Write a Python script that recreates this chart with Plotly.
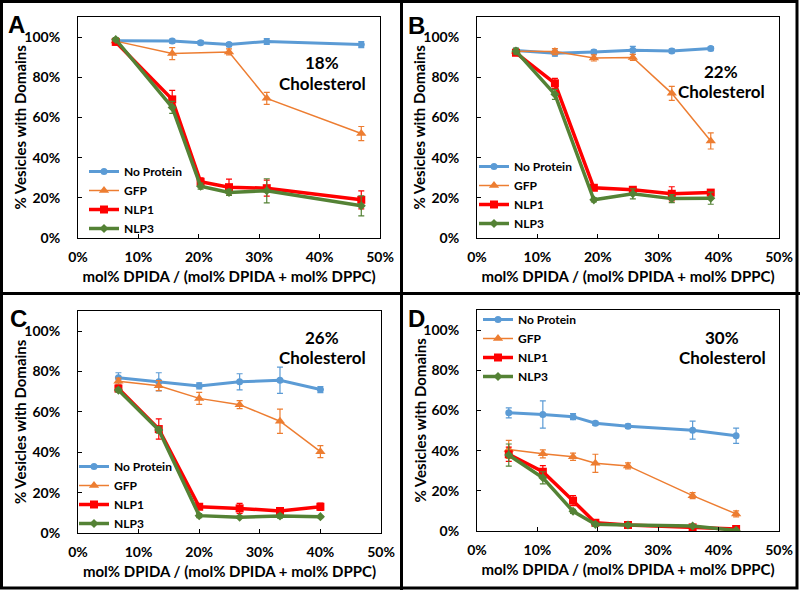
import plotly.graph_objects as go

W, H = 800, 590

# ---------------- data ----------------
series_names = ["No Protein", "GFP", "NLP1", "NLP3"]

x_A = [6.25, 15.6, 20.3, 25.0, 31.25, 46.9]
x_A_gfp = [6.25, 15.6, 25.0, 31.25, 46.9]
noprot_A = [98.2, 98.0, 97.2, 96.3, 97.8, 96.3]
noprot_A_err = [0.8, 1.0, 1.0, 1.0, 1.5, 1.5]
gfp_A = [98.0, 91.8, 92.6, 69.5, 52.0]
gfp_A_err = [1.0, 3.0, 1.5, 3.0, 3.5]
nlp1_A = [97.6, 69.0, 28.0, 25.3, 24.8, 19.0]
nlp1_A_err = [1.5, 4.5, 2.0, 4.0, 4.0, 4.5]
nlp3_A = [98.8, 65.0, 25.8, 22.7, 23.5, 16.0]
nlp3_A_err = [1.0, 3.0, 1.5, 1.5, 6.0, 5.0]

x_B = [6.45, 12.9, 19.35, 25.8, 32.25, 38.7]
noprot_B = [93.3, 92.0, 92.6, 93.4, 93.1, 94.3]
noprot_B_err = [1.0, 1.5, 1.0, 2.0, 1.0, 1.0]
gfp_B = [93.0, 92.8, 89.6, 89.9, 72.0, 48.3]
gfp_B_err = [1.0, 1.5, 1.5, 1.5, 3.5, 4.0]
nlp1_B = [92.2, 77.0, 25.0, 24.0, 22.0, 22.6]
nlp1_B_err = [1.0, 2.5, 1.0, 1.0, 3.5, 1.5]
nlp3_B = [93.0, 71.5, 19.0, 22.0, 19.6, 19.8]
nlp3_B_err = [1.5, 2.5, 1.0, 2.5, 2.0, 3.0]

x_C = [6.67, 13.33, 20.0, 26.67, 33.33, 40.0]
noprot_C = [76.9, 74.9, 72.9, 74.9, 75.7, 71.1]
noprot_C_err = [2.5, 4.5, 1.5, 4.0, 6.5, 1.5]
gfp_C = [75.2, 73.0, 66.7, 63.6, 55.4, 40.3]
gfp_C_err = [1.5, 2.5, 3.0, 2.0, 6.0, 3.0]
nlp1_C = [71.6, 51.5, 13.0, 12.2, 10.9, 13.0]
nlp1_C_err = [1.5, 5.0, 1.0, 2.5, 1.0, 1.8]
nlp3_C = [70.8, 51.0, 8.6, 7.8, 8.4, 8.1]
nlp3_C_err = [1.0, 1.5, 1.0, 0.5, 1.0, 0.5]

x_D = [5.26, 10.9, 15.9, 19.6, 25.0, 35.7, 42.9]
noprot_D = [58.8, 58.0, 56.9, 53.6, 52.2, 50.2, 47.4]
noprot_D_err = [2.5, 6.8, 1.5, 1.0, 1.0, 4.5, 3.8]
gfp_D = [40.6, 38.4, 37.0, 33.7, 32.4, 17.6, 8.5]
gfp_D_err = [4.5, 2.0, 1.8, 4.5, 1.5, 1.5, 1.5]
nlp1_D = [38.2, 29.5, 15.1, 4.1, 3.0, 1.8, 1.0]
nlp1_D_err = [3.5, 3.0, 2.5, 1.0, 1.0, 0.5, 0.5]
nlp3_D = [37.8, 26.5, 9.8, 3.3, 3.0, 2.5, 0.3]
nlp3_D_err = [5.5, 3.0, 1.0, 1.0, 0.5, 0.5, 0.5]

panel_letters = ["A", "B", "C", "D"]
chol_labels = ["18%", "22%", "26%", "30%"]
x_ticks = [0, 10, 20, 30, 40, 50]
x_tick_labels = ["0%", "10%", "20%", "30%", "40%", "50%"]
y_ticks = [0, 20, 40, 60, 80, 100]
y_tick_labels = ["0%", "20%", "40%", "60%", "80%", "100%"]
x_title = "mol% DPIDA / (mol% DPIDA + mol% DPPC)"
y_title = "% Vesicles with Domains"

panels = [
    [(x_A, noprot_A, noprot_A_err), (x_A_gfp, gfp_A, gfp_A_err), (x_A, nlp1_A, nlp1_A_err), (x_A, nlp3_A, nlp3_A_err)],
    [(x_B, noprot_B, noprot_B_err), (x_B, gfp_B, gfp_B_err), (x_B, nlp1_B, nlp1_B_err), (x_B, nlp3_B, nlp3_B_err)],
    [(x_C, noprot_C, noprot_C_err), (x_C, gfp_C, gfp_C_err), (x_C, nlp1_C, nlp1_C_err), (x_C, nlp3_C, nlp3_C_err)],
    [(x_D, noprot_D, noprot_D_err), (x_D, gfp_D, gfp_D_err), (x_D, nlp1_D, nlp1_D_err), (x_D, nlp3_D, nlp3_D_err)],
]

# ---------------- styles ----------------
colors = ["#5B9BD5", "#ED7D31", "#FF0000", "#548235"]
line_widths = [3, 1.5, 3.5, 3.5]
symbols = ["circle", "triangle-up", "square", "diamond"]
msizes = [7, 9, 8, 7]

FONT = "Lato"

# pixel domains (left, right, top, bottom)
doms = [(78, 380, 17, 238), (477, 779, 17, 238), (78, 381, 311, 533), (477, 779, 310, 531)]
legend_pos = [(84, 200), (474, 195), (74, 495), (478, 348)]  # (left x, middle y) px
letter_pos = [(16, 24), (416, 25), (18, 318), (416, 318)]
chol_pos = [(322, 63, 83), (721, 71, 91), (322, 337, 357), (722, 337, 357)]
ytitle_x = [20, 419, 20, 419]


def px(x):
    return x / W


def py(y):
    return 1 - y / H


fig = go.Figure()
layout = {}
annotations = []

for i, data in enumerate(panels):
    n = "" if i == 0 else str(i + 1)
    xa, ya = "x" + n, "y" + n
    leg = "legend" + n
    for j, (xs, ys, es) in enumerate(data):
        fig.add_trace(go.Scatter(
            x=xs, y=ys, name=series_names[j], mode="lines+markers",
            xaxis=xa, yaxis=ya, legend=leg,
            line=dict(color=colors[j], width=line_widths[j]),
            marker=dict(symbol=symbols[j], size=msizes[j], color=colors[j]),
            error_y=dict(type="data", array=es, visible=True, color=colors[j], thickness=1.2, width=3),
        ))
    l, r, t, b = doms[i]
    layout["xaxis" + n] = dict(
        domain=[px(l), px(r)], anchor=ya, range=[0, 50], tickmode="array",
        tickvals=x_ticks, ticktext=x_tick_labels, automargin=False,
        showline=True, mirror=True, linecolor="black", linewidth=1, ticks="inside", ticklen=4,
        tickcolor="black", showgrid=False, zeroline=False,
        tickfont=dict(family=FONT, size=14, color="black", weight="bold"),
        ticklabelstandoff=6,
        title=dict(text=x_title, font=dict(family=FONT, size=15, color="black", weight="bold"), standoff=7),
    )
    layout["yaxis" + n] = dict(
        domain=[py(b), py(t)], anchor=xa, range=[0, 110], tickmode="array",
        tickvals=y_ticks, ticktext=y_tick_labels, automargin=False,
        showline=True, mirror=True, linecolor="black", linewidth=1, ticks="inside", ticklen=4,
        tickcolor="black", showgrid=False, zeroline=False,
        tickfont=dict(family=FONT, size=14, color="black", weight="bold"),
        ticklabelstandoff=14,
    )
    annotations.append(dict(
        text=y_title, textangle=-90, x=px(ytitle_x[i]), y=py((t + b) / 2), xref="paper", yref="paper",
        showarrow=False, font=dict(family=FONT, size=15, color="black", weight="bold"),
        xanchor="center", yanchor="middle"))
    lx, ly = legend_pos[i]
    layout[leg] = dict(
        x=px(lx), y=py(ly), xanchor="left", yanchor="middle", bgcolor="rgba(0,0,0,0)",
        font=dict(family=FONT, size=12, color="black", weight="bold"), itemwidth=30,
        traceorder="normal",
    )
    annotations.append(dict(
        text=panel_letters[i], x=px(letter_pos[i][0]), y=py(letter_pos[i][1]), xref="paper", yref="paper",
        showarrow=False, font=dict(family="Liberation Sans", size=24, color="black", weight="bold"),
        xanchor="center", yanchor="middle"))
    cx, cy1, cy2 = chol_pos[i]
    annotations.append(dict(
        text=chol_labels[i], x=px(cx), y=py(cy1), xref="paper", yref="paper", showarrow=False,
        font=dict(family=FONT, size=17, color="black", weight="bold"), xanchor="center", yanchor="middle"))
    annotations.append(dict(
        text="Cholesterol", x=px(cx), y=py(cy2), xref="paper", yref="paper", showarrow=False,
        font=dict(family=FONT, size=17, color="black", weight="bold"), xanchor="center", yanchor="middle"))

shapes = [
    dict(type="rect", xref="paper", yref="paper", x0=px(1.5), x1=px(797), y0=py(588), y1=py(1.5),
         line=dict(color="black", width=3)),
    dict(type="line", xref="paper", yref="paper", x0=px(401.5), x1=px(401.5), y0=0, y1=1,
         line=dict(color="black", width=3)),
    dict(type="line", xref="paper", yref="paper", x0=0, x1=1, y0=py(293.5), y1=py(293.5),
         line=dict(color="black", width=3)),
]

fig.update_layout(
    width=W, height=H, margin=dict(l=0, r=0, t=0, b=0, autoexpand=False),
    paper_bgcolor="white", plot_bgcolor="white",
    annotations=annotations, shapes=shapes, **layout,
)

fig.write_html(
    "out.html",
    config={"displayModeBar": False},
    post_script="document.body.style.margin='0';document.body.style.padding='0';document.body.style.overflow='hidden';",
)
